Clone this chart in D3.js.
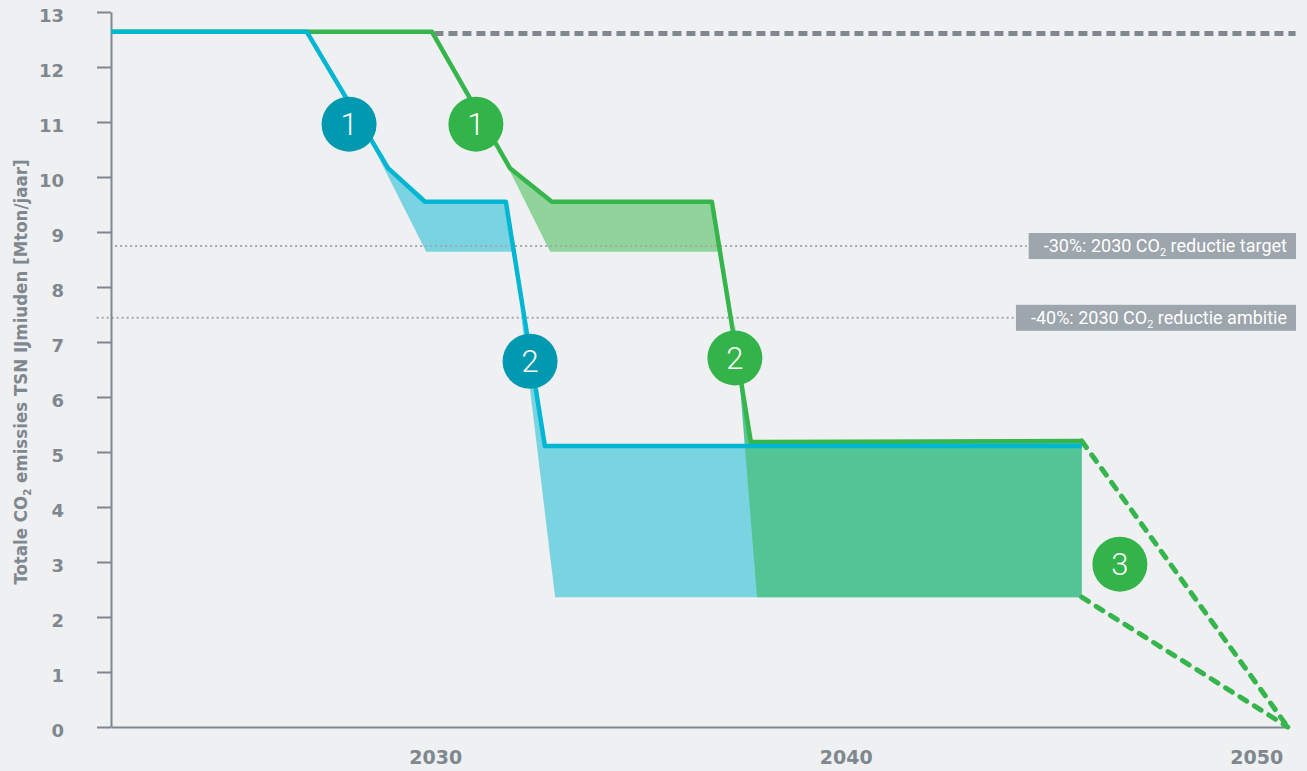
<!DOCTYPE html>
<html>
<head>
<meta charset="utf-8">
<script src="https://cdn.jsdelivr.net/npm/d3@7/dist/d3.min.js"></script>
<style>
  html, body { margin: 0; padding: 0; background: #eff0f2; }
  svg { display: block; }
  .tick text { font-family: "DejaVu Sans", sans-serif; font-weight: bold; fill: #7f878f; }
</style>
</head>
<body>
<svg id="chart"></svg>
<script>
// ---- data (year, Mton/jaar) ----
let blueLine  = [[2022.1, 12.64], [2026.87, 12.64], [2028.85, 10.16], [2029.75, 9.55], [2031.72, 9.55], [2032.67, 5.11], [2045.75, 5.11]];
let greenLine = [[2022.1, 12.64], [2029.92, 12.64], [2031.82, 10.16], [2032.84, 9.55], [2036.74, 9.55], [2037.69, 5.18], [2045.75, 5.20]];

// shaded bands: upper edge follows the line, lower edge is the extra reduction
let blueBand1  = [[2028.29, 10.84], [2028.85, 10.16], [2029.75, 9.55], [2031.72, 9.55], [2031.92, 8.64], [2029.78, 8.64]];
let greenBand1 = [[2031.33, 10.84], [2031.82, 10.16], [2032.84, 9.55], [2036.74, 9.55], [2036.95, 8.64], [2032.80, 8.64]];
let blueBand2  = [[2032.07, 7.62], [2032.67, 5.11], [2045.75, 5.11], [2045.75, 2.36], [2032.92, 2.36]];
let greenBand2 = [[2037.30, 7.35], [2037.69, 5.18], [2045.75, 5.20], [2045.75, 2.36], [2037.84, 2.36]];

// dashed paths to zero in 2050
let toZeroHigh = [[2045.75, 5.20], [2050.77, 0]];
let toZeroLow  = [[2045.75, 2.36], [2050.77, 0]];
let currentLevel = [[2029.98, 12.61], [2050.96, 12.61]];

let refValues = [8.745, 7.44];
let refStart  = [2022.2, 2021.75];
let refLabels = ["-30%: 2030 ", "-40%: 2030 "];
let refTails  = [" reductie target", " reductie ambitie"];

let markerYears  = [2027.90, 2030.99, 2032.31, 2037.30, 2046.68];
let markerValues = [10.96, 10.96, 6.65, 6.71, 2.96];
let markerLabels = ["1", "1", "2", "2", "3"];
let markerGroup  = ["blue", "green", "blue", "green", "green"];

let yTicks = d3.range(0, 14);
let xTicks = [2030, 2040, 2050];

const width = 1307, height = 771;
const colors = {
  blueLine: "#00b6d2", greenLine: "#35b54b",
  blueBand: "#79d3e1", greenBand1: "#90d39b", greenBand2: "#54c494",
  blueDot: "#0099b0", greenDot: "#33b44a",
  axis: "#7f878f", dotted: "#a3a8ae", box: "#9da5ad"
};

let svg = d3.select("#chart").attr("width", width).attr("height", height);
svg.append("rect").attr("width", width).attr("height", height).attr("fill", "#eff0f2");

let x = d3.scaleLinear().domain([2022.1, 2050.8]).range([111, 1289]);
let y = d3.scaleLinear().domain([0, 13]).range([727, 12]);

let line = d3.line().x(d => x(d[0])).y(d => y(d[1]));

// bands
[[blueBand1, colors.blueBand], [blueBand2, colors.blueBand], [greenBand1, colors.greenBand1], [greenBand2, colors.greenBand2]]
  .forEach(b => {
    svg.append("path").attr("d", line(b[0]) + "Z").attr("fill", b[1]);
  });

// reference lines with label boxes
refValues.forEach((v, i) => {
  let g = svg.append("g");
  let t = g.append("text")
      .attr("font-family", "Roboto, sans-serif")
      .attr("font-size", 18)
      .attr("fill", "#fff")
      .attr("text-anchor", "end")
      .attr("x", 1287)
      .attr("y", y(v) + 6);
  t.append("tspan").text(refLabels[i] + "CO");
  t.append("tspan").text("2").attr("font-size", 11).attr("dy", 4);
  t.append("tspan").text(refTails[i]).attr("dy", -4);
  let bb = t.node().getBBox();
  let left = bb.x - 15;
  g.insert("rect", "text")
      .attr("x", left).attr("y", y(v) - 13)
      .attr("width", 1296 - left).attr("height", 26)
      .attr("fill", colors.box);
  svg.append("line")
      .attr("x1", x(refStart[i])).attr("x2", left - 2)
      .attr("y1", y(v)).attr("y2", y(v))
      .attr("stroke", colors.dotted).attr("stroke-width", 2)
      .attr("stroke-dasharray", "2,3");
});

// current level
svg.append("path").attr("d", line(currentLevel))
    .attr("fill", "none").attr("stroke", "#80878f")
    .attr("stroke-width", 5).attr("stroke-dasharray", "9,5");

// axes
let yAxis = svg.append("g")
    .attr("transform", "translate(111,0)")
    .call(d3.axisLeft(y).tickValues(yTicks).tickSize(14).tickPadding(33).tickSizeOuter(0));
let xAxis = svg.append("g")
    .attr("transform", "translate(0,727)")
    .call(d3.axisBottom(x).tickValues(xTicks).tickFormat(d3.format("d")).tickSize(0).tickPadding(24).tickSizeOuter(0));
[yAxis, xAxis].forEach(a => {
  a.selectAll("path, line").attr("stroke", colors.axis).attr("stroke-width", 2);
});
xAxis.selectAll("text").attr("font-size", 19);
yAxis.selectAll("text").attr("font-size", 18).attr("dy", "0.52em");

// axis title
let title = svg.append("text")
    .attr("transform", "translate(27,372) rotate(-90)")
    .attr("text-anchor", "middle")
    .attr("font-family", "'Liberation Sans Narrow', 'DejaVu Sans Condensed', Roboto, sans-serif")
    .attr("font-size", 18)
    .attr("font-weight", 600)
    .attr("fill", colors.axis)
    .attr("textLength", 425)
    .attr("lengthAdjust", "spacingAndGlyphs");
title.append("tspan").text("Totale CO");
title.append("tspan").text("2").attr("font-size", 11).attr("dy", 4);
title.append("tspan").text(" emissies TSN IJmiuden [Mton/jaar]").attr("dy", -4);

// scenario lines
svg.append("path").attr("d", line(greenLine))
    .attr("fill", "none").attr("stroke", colors.greenLine).attr("stroke-width", 4.5).attr("stroke-linejoin", "round");
svg.append("path").attr("d", line(blueLine))
    .attr("fill", "none").attr("stroke", colors.blueLine).attr("stroke-width", 4.5).attr("stroke-linejoin", "round");

[toZeroHigh, toZeroLow].forEach(p => {
  svg.append("path").attr("d", line(p))
      .attr("fill", "none").attr("stroke", colors.greenLine)
      .attr("stroke-width", 5).attr("stroke-linecap", "round")
      .attr("stroke-dasharray", "8,9");
});

// numbered markers
let markers = svg.selectAll(".marker")
    .data(markerYears.map((d, i) => ({ year: d, value: markerValues[i], label: markerLabels[i], group: markerGroup[i] })))
    .enter().append("g")
    .attr("class", "marker")
    .attr("transform", d => "translate(" + x(d.year) + "," + y(d.value) + ")");
markers.append("circle").attr("r", 27.5)
    .attr("fill", d => d.group == "blue" ? colors.blueDot : colors.greenDot);
markers.append("text").text(d => d.label)
    .attr("text-anchor", "middle").attr("dy", "0.36em")
    .attr("font-family", "Roboto, sans-serif").attr("font-weight", 300)
    .attr("font-size", 31).attr("fill", "#fff");
</script>
</body>
</html>
